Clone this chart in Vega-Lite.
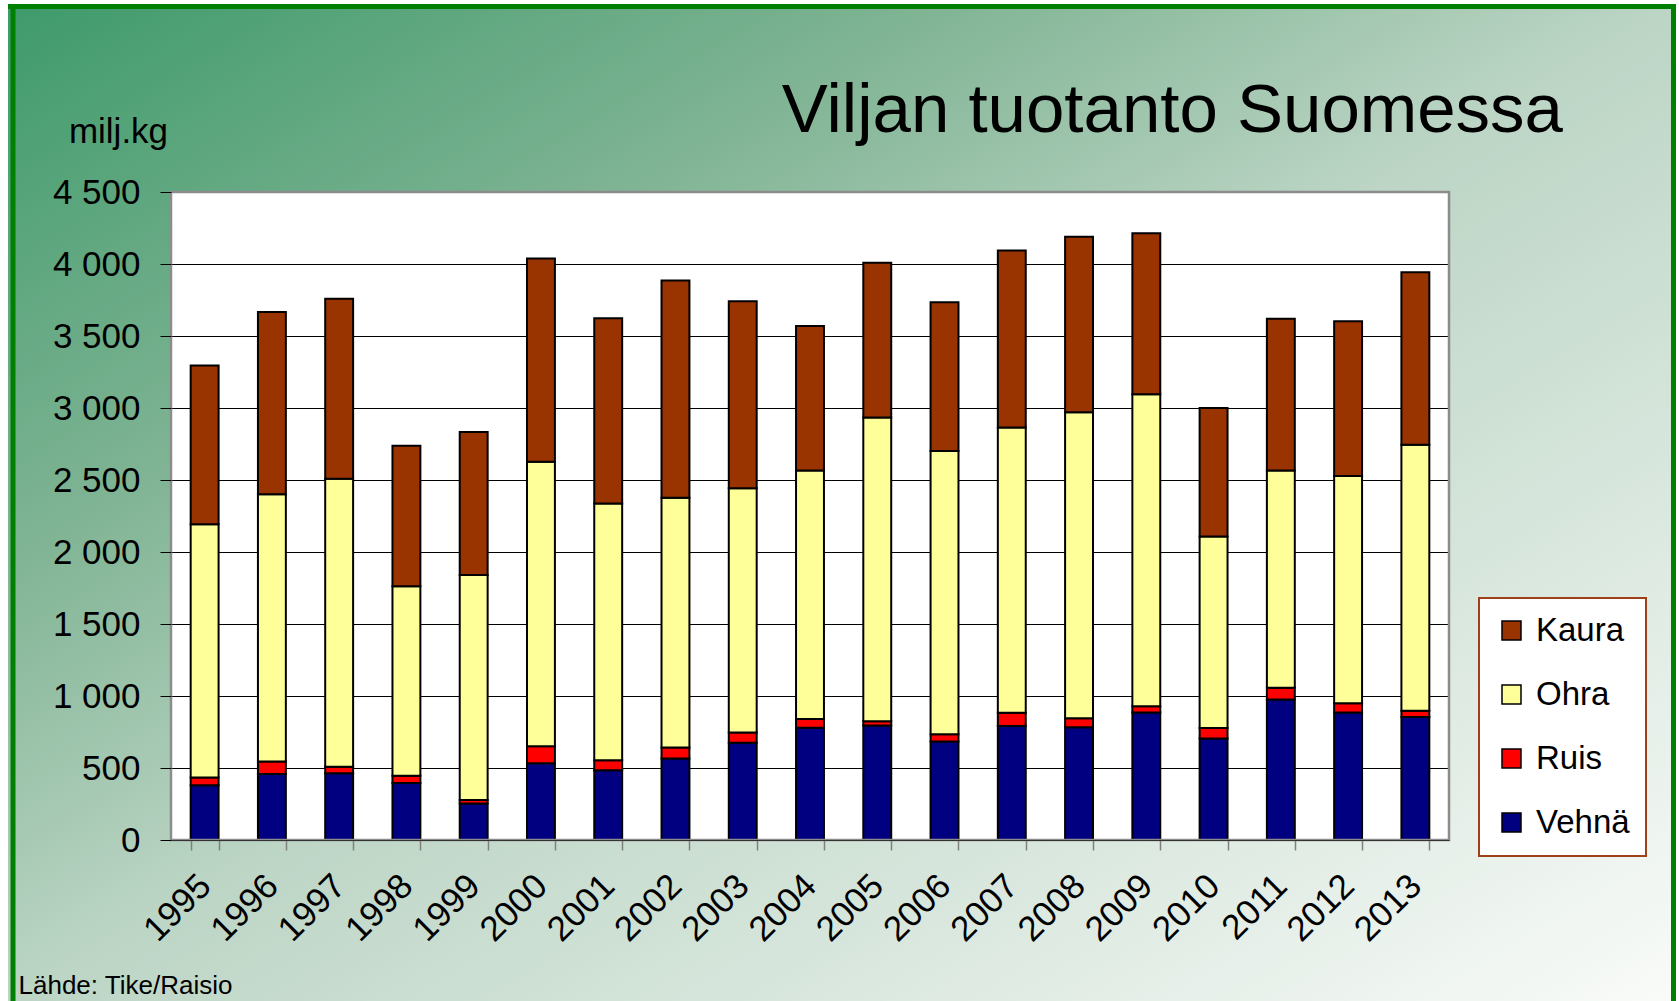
{
  "$schema": "https://vega.github.io/schema/vega-lite/v6.json",
  "autosize": {"type": "none"},
  "width": 1278,
  "height": 648,
  "padding": {"left": 171, "top": 192, "right": 230, "bottom": 161},
  "background": "white",
  "config": {
    "font": "Liberation Sans",
    "view": {"fill": "white", "stroke": null},
    "legend": {"strokeWidth": 2}
  },
  "title": {
    "text": "Viljan tuotanto Suomessa",
    "anchor": "end",
    "frame": "group",
    "fontSize": 69,
    "fontWeight": "normal",
    "color": "black",
    "dx": 114,
    "offset": -197,
    "baseline": "alphabetic"
  },
  "resolve": {"scale": {"x": "independent"}, "axis": {"y": "independent"}},
  "data": {
    "values": [
      {"vuosi": "1995", "vilja": "Vehnä", "milj_kg": 380}, {"vuosi": "1995", "vilja": "Ruis", "milj_kg": 54}, {"vuosi": "1995", "vilja": "Ohra", "milj_kg": 1759}, {"vuosi": "1995", "vilja": "Kaura", "milj_kg": 1102},
      {"vuosi": "1996", "vilja": "Vehnä", "milj_kg": 458}, {"vuosi": "1996", "vilja": "Ruis", "milj_kg": 87}, {"vuosi": "1996", "vilja": "Ohra", "milj_kg": 1856}, {"vuosi": "1996", "vilja": "Kaura", "milj_kg": 1265},
      {"vuosi": "1997", "vilja": "Vehnä", "milj_kg": 464}, {"vuosi": "1997", "vilja": "Ruis", "milj_kg": 45}, {"vuosi": "1997", "vilja": "Ohra", "milj_kg": 2000}, {"vuosi": "1997", "vilja": "Kaura", "milj_kg": 1250},
      {"vuosi": "1998", "vilja": "Vehnä", "milj_kg": 395}, {"vuosi": "1998", "vilja": "Ruis", "milj_kg": 51}, {"vuosi": "1998", "vilja": "Ohra", "milj_kg": 1316}, {"vuosi": "1998", "vilja": "Kaura", "milj_kg": 976},
      {"vuosi": "1999", "vilja": "Vehnä", "milj_kg": 253}, {"vuosi": "1999", "vilja": "Ruis", "milj_kg": 24}, {"vuosi": "1999", "vilja": "Ohra", "milj_kg": 1563}, {"vuosi": "1999", "vilja": "Kaura", "milj_kg": 994},
      {"vuosi": "2000", "vilja": "Vehnä", "milj_kg": 533}, {"vuosi": "2000", "vilja": "Ruis", "milj_kg": 118}, {"vuosi": "2000", "vilja": "Ohra", "milj_kg": 1975}, {"vuosi": "2000", "vilja": "Kaura", "milj_kg": 1413},
      {"vuosi": "2001", "vilja": "Vehnä", "milj_kg": 485}, {"vuosi": "2001", "vilja": "Ruis", "milj_kg": 69}, {"vuosi": "2001", "vilja": "Ohra", "milj_kg": 1783}, {"vuosi": "2001", "vilja": "Kaura", "milj_kg": 1286},
      {"vuosi": "2002", "vilja": "Vehnä", "milj_kg": 566}, {"vuosi": "2002", "vilja": "Ruis", "milj_kg": 76}, {"vuosi": "2002", "vilja": "Ohra", "milj_kg": 1735}, {"vuosi": "2002", "vilja": "Kaura", "milj_kg": 1508},
      {"vuosi": "2003", "vilja": "Vehnä", "milj_kg": 675}, {"vuosi": "2003", "vilja": "Ruis", "milj_kg": 72}, {"vuosi": "2003", "vilja": "Ohra", "milj_kg": 1696}, {"vuosi": "2003", "vilja": "Kaura", "milj_kg": 1298},
      {"vuosi": "2004", "vilja": "Vehnä", "milj_kg": 780}, {"vuosi": "2004", "vilja": "Ruis", "milj_kg": 60}, {"vuosi": "2004", "vilja": "Ohra", "milj_kg": 1726}, {"vuosi": "2004", "vilja": "Kaura", "milj_kg": 1003},
      {"vuosi": "2005", "vilja": "Vehnä", "milj_kg": 795}, {"vuosi": "2005", "vilja": "Ruis", "milj_kg": 30}, {"vuosi": "2005", "vilja": "Ohra", "milj_kg": 2109}, {"vuosi": "2005", "vilja": "Kaura", "milj_kg": 1075},
      {"vuosi": "2006", "vilja": "Vehnä", "milj_kg": 684}, {"vuosi": "2006", "vilja": "Ruis", "milj_kg": 51}, {"vuosi": "2006", "vilja": "Ohra", "milj_kg": 1967}, {"vuosi": "2006", "vilja": "Kaura", "milj_kg": 1033},
      {"vuosi": "2007", "vilja": "Vehnä", "milj_kg": 792}, {"vuosi": "2007", "vilja": "Ruis", "milj_kg": 91}, {"vuosi": "2007", "vilja": "Ohra", "milj_kg": 1981}, {"vuosi": "2007", "vilja": "Kaura", "milj_kg": 1229},
      {"vuosi": "2008", "vilja": "Vehnä", "milj_kg": 783}, {"vuosi": "2008", "vilja": "Ruis", "milj_kg": 63}, {"vuosi": "2008", "vilja": "Ohra", "milj_kg": 2124}, {"vuosi": "2008", "vilja": "Kaura", "milj_kg": 1220},
      {"vuosi": "2009", "vilja": "Vehnä", "milj_kg": 886}, {"vuosi": "2009", "vilja": "Ruis", "milj_kg": 42}, {"vuosi": "2009", "vilja": "Ohra", "milj_kg": 2168}, {"vuosi": "2009", "vilja": "Kaura", "milj_kg": 1118},
      {"vuosi": "2010", "vilja": "Vehnä", "milj_kg": 705}, {"vuosi": "2010", "vilja": "Ruis", "milj_kg": 72}, {"vuosi": "2010", "vilja": "Ohra", "milj_kg": 1331}, {"vuosi": "2010", "vilja": "Kaura", "milj_kg": 892},
      {"vuosi": "2011", "vilja": "Vehnä", "milj_kg": 976}, {"vuosi": "2011", "vilja": "Ruis", "milj_kg": 81}, {"vuosi": "2011", "vilja": "Ohra", "milj_kg": 1509}, {"vuosi": "2011", "vilja": "Kaura", "milj_kg": 1054},
      {"vuosi": "2012", "vilja": "Vehnä", "milj_kg": 886}, {"vuosi": "2012", "vilja": "Ruis", "milj_kg": 63}, {"vuosi": "2012", "vilja": "Ohra", "milj_kg": 1578}, {"vuosi": "2012", "vilja": "Kaura", "milj_kg": 1075},
      {"vuosi": "2013", "vilja": "Vehnä", "milj_kg": 855}, {"vuosi": "2013", "vilja": "Ruis", "milj_kg": 43}, {"vuosi": "2013", "vilja": "Ohra", "milj_kg": 1846}, {"vuosi": "2013", "vilja": "Kaura", "milj_kg": 1199}
    ]
  },
  "layer": [
    {
      "data": {"values": [{}]},
      "mark": {
        "type": "rect", "stroke": null,
        "fill": {"gradient": "linear", "x1": 0, "y1": 0, "x2": 1.93133, "y2": 0.36419,
          "stops": [{"offset": 0, "color": "#3e9a6b"}, {"offset": 0.28, "color": "#80b494"}, {"offset": 0.5, "color": "#bcd5c5"}, {"offset": 1, "color": "#f9fbf9"}]}
      },
      "encoding": {
        "x": {"datum": -0.127543, "type": "quantitative", "scale": {"domain": [0, 1], "nice": false, "zero": false}, "axis": null},
        "x2": {"datum": 1.177621},
        "y": {"datum": 5805.56, "type": "quantitative",
          "axis": {
            "orient": "left",
            "zindex": 1,
            "values": [0, 500, 1000, 1500, 2000, 2500, 3000, 3500, 4000, 4500],
            "labelExpr": "replace(format(datum.value, ','), ',', ' ')",
            "domain": false,
            "grid": false,
            "tickColor": "black",
            "tickSize": 11,
            "tickWidth": 1,
            "labelFontSize": 35,
            "labelColor": "black",
            "labelPadding": 20,
            "title": "milj.kg",
            "titleFontSize": 35,
            "titleFontWeight": "normal",
            "titleColor": "black",
            "titleAngle": 0,
            "titleAlign": "center",
            "titleBaseline": "alphabetic",
            "titleX": -53,
            "titleY": -50
          }
        },
        "y2": {"datum": 4500}
      }
    },
    {
      "data": {"values": [{}]},
      "mark": {
        "type": "rect", "stroke": null,
        "fill": {"gradient": "linear", "x1": -0.81721, "y1": -0.13197, "x2": 1.13197, "y2": 0.18279,
          "stops": [{"offset": 0, "color": "#3e9a6b"}, {"offset": 0.28, "color": "#80b494"}, {"offset": 0.5, "color": "#bcd5c5"}, {"offset": 1, "color": "#f9fbf9"}]}
      },
      "encoding": {
        "x": {"datum": -0.127543, "type": "quantitative", "scale": {"domain": [0, 1], "nice": false, "zero": false}, "axis": null},
        "x2": {"datum": 1.177621},
        "y": {"datum": 0, "type": "quantitative", "axis": null},
        "y2": {"datum": -1118.06}
      }
    },
    {
      "data": {"values": [{}]},
      "mark": {
        "type": "rect", "stroke": null,
        "fill": {"gradient": "linear", "x1": -0.042656, "y1": -0.28371, "x2": 0.40977, "y2": 2.72543,
          "stops": [{"offset": 0, "color": "#3e9a6b"}, {"offset": 0.28, "color": "#80b494"}, {"offset": 0.5, "color": "#bcd5c5"}, {"offset": 1, "color": "#f9fbf9"}]}
      },
      "encoding": {
        "x": {"datum": -0.127543, "type": "quantitative", "scale": {"domain": [0, 1], "nice": false, "zero": false}, "axis": null},
        "x2": {"datum": 0},
        "y": {"datum": 4500, "type": "quantitative", "axis": null},
        "y2": {"datum": 0}
      }
    },
    {
      "data": {"values": [{}]},
      "mark": {
        "type": "rect", "stroke": null,
        "fill": {"gradient": "linear", "x1": -0.32483, "y1": -1.5513, "x2": 0.29243, "y2": 1.39661,
          "stops": [{"offset": 0, "color": "#3e9a6b"}, {"offset": 0.28, "color": "#80b494"}, {"offset": 0.5, "color": "#bcd5c5"}, {"offset": 1, "color": "#f9fbf9"}]}
      },
      "encoding": {
        "x": {"datum": 1, "type": "quantitative", "scale": {"domain": [0, 1], "nice": false, "zero": false}, "axis": null},
        "x2": {"datum": 1.177621},
        "y": {"datum": 4500, "type": "quantitative", "axis": null},
        "y2": {"datum": 0}
      }
    },
    {
      "data": {"values": [{}]},
      "mark": {"type": "rule", "color": "#008000", "strokeWidth": 5},
      "encoding": {
        "x": {"datum": -0.123631, "type": "quantitative", "scale": {"domain": [0, 1], "nice": false, "zero": false}, "axis": null},
        "y": {"datum": 5788.19, "type": "quantitative", "axis": null},
        "y2": {"datum": -1300}
      }
    },
    {
      "data": {"values": [{}]},
      "mark": {"type": "rule", "color": "#008000", "strokeWidth": 5},
      "encoding": {
        "x": {"datum": 1.175665, "type": "quantitative", "scale": {"domain": [0, 1], "nice": false, "zero": false}, "axis": null},
        "y": {"datum": 5788.19, "type": "quantitative", "axis": null},
        "y2": {"datum": -1300}
      }
    },
    {
      "data": {"values": [{}]},
      "mark": {"type": "rule", "color": "#008000", "strokeWidth": 5},
      "encoding": {
        "x": {"datum": -0.127543, "type": "quantitative", "scale": {"domain": [0, 1], "nice": false, "zero": false}, "axis": null},
        "x2": {"datum": 1.177621},
        "y": {"datum": 5788.19, "type": "quantitative", "axis": null}
      }
    },
    {
      "mark": {"type": "bar", "stroke": "black", "strokeWidth": 2},
      "encoding": {
        "x": {
          "field": "vuosi",
          "type": "ordinal",
          "scale": {"paddingInner": 0.585, "paddingOuter": 0.2925},
          "axis": {
            "zindex": 1,
            "tickBand": "extent",
            "tickSize": 10,
            "tickColor": "#808080",
            "tickWidth": 1.5,
            "domainColor": "#333333",
            "domainWidth": 1,
            "labelAngle": -45,
            "labelAlign": "right",
            "labelBaseline": "middle",
            "labelFontSize": 35,
            "labelColor": "black",
            "labelPadding": 30,
            "title": "Lähde: Tike/Raisio",
            "titleFontSize": 26,
            "titleFontWeight": "normal",
            "titleColor": "black",
            "titleAngle": 0,
            "titleAlign": "left",
            "titleBaseline": "alphabetic",
            "titleX": -153,
            "titleY": 153
          }
        },
        "y": {
          "field": "milj_kg",
          "type": "quantitative",
          "stack": "zero",
          "scale": {"domain": [0, 4500], "nice": false},
          "axis": {
            "orient": "left",
            "zindex": 0,
            "values": [500, 1000, 1500, 2000, 2500, 3000, 3500, 4000],
            "grid": true,
            "gridColor": "black",
            "gridWidth": 1,
            "gridOpacity": 1,
            "domain": false,
            "ticks": false,
            "labels": false,
            "title": null
          }
        },
        "color": {
          "field": "vilja",
          "type": "nominal",
          "scale": {
            "domain": ["Kaura", "Ohra", "Ruis", "Vehnä"],
            "range": ["#993300", "#FFFF99", "#FF0000", "#000080"]
          },
          "legend": {
            "orient": "none",
            "legendX": 1308,
            "legendY": 406,
            "title": null,
            "fillColor": "white",
            "strokeColor": "#a0401a",
            "padding": 16,
            "symbolType": "square",
            "symbolSize": 361,
            "symbolStrokeColor": "black",
            "symbolStrokeWidth": 1.5,
            "symbolOpacity": 1,
            "labelFontSize": 33,
            "labelColor": "black",
            "labelOffset": 8,
            "rowPadding": 30
          }
        }
      }
    },
    {
      "data": {"values": [{}]},
      "mark": {"type": "rect", "filled": false, "color": "#8c8c8c", "strokeWidth": 2.5},
      "encoding": {
        "x": {"datum": 0, "type": "quantitative", "scale": {"domain": [0, 1], "nice": false, "zero": false}, "axis": null},
        "x2": {"datum": 1},
        "y": {"datum": 4500, "type": "quantitative", "axis": null},
        "y2": {"datum": 0}
      }
    }
  ]
}
